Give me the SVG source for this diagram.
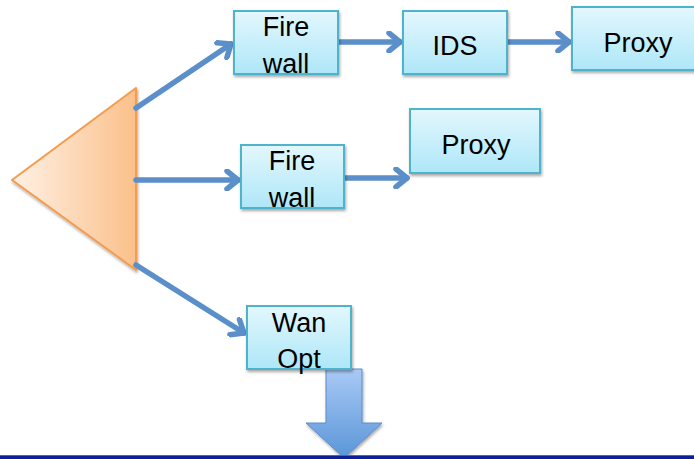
<svg xmlns="http://www.w3.org/2000/svg" width="694" height="459" viewBox="0 0 694 459">
  <defs>
    <linearGradient id="boxFill" x1="0" y1="0" x2="0" y2="1">
      <stop offset="0" stop-color="#e3f7fd"/>
      <stop offset="1" stop-color="#aee7f8"/>
    </linearGradient>
    <linearGradient id="triFill" x1="0" y1="0" x2="1" y2="0">
      <stop offset="0" stop-color="#fff1e6"/>
      <stop offset="1" stop-color="#fbc08a"/>
    </linearGradient>
    <linearGradient id="downFill" x1="0" y1="0" x2="0" y2="1">
      <stop offset="0" stop-color="#a9c9f6"/>
      <stop offset="1" stop-color="#5a96d8"/>
    </linearGradient>
    <filter id="shadow" x="-10%" y="-10%" width="125%" height="130%">
      <feGaussianBlur in="SourceAlpha" stdDeviation="1.5"/>
      <feOffset dx="1" dy="2" result="b"/>
      <feComponentTransfer><feFuncA type="linear" slope="0.35"/></feComponentTransfer>
      <feMerge><feMergeNode/><feMergeNode in="SourceGraphic"/></feMerge>
    </filter>
    <marker id="chevron" viewBox="-16 -11 19 22" refX="0" refY="0" markerWidth="19" markerHeight="22" markerUnits="userSpaceOnUse" orient="auto">
      <path d="M -11 -9 L 0 0 L -11 9" fill="none" stroke="#5b8fc9" stroke-width="5.5" stroke-linecap="round" stroke-linejoin="round"/>
    </marker>
    <style>
      .box { fill: url(#boxFill); stroke: #4fb3cc; stroke-width: 2; filter: url(#shadow); }
      .lbl { font-family: "Liberation Sans", Arial, sans-serif; font-size: 27px; fill: #000; text-anchor: middle; }
      .link { fill: none; stroke: #5b8fc9; stroke-width: 5.5; stroke-linecap: round; marker-end: url(#chevron); }
    </style>
  </defs>

  <rect width="694" height="459" fill="#ffffff"/>

  <!-- splitter -->
  <g id="splitter">
    <polygon points="12,180 136,88 136,270" fill="url(#triFill)" stroke="#f59b4c" stroke-width="2" stroke-linejoin="round" filter="url(#shadow)"/>
  </g>

  <!-- connectors -->
  <g id="connectors">
    <line class="link" x1="136" y1="108" x2="231" y2="44"/>
    <line class="link" x1="136" y1="180" x2="238" y2="180"/>
    <line class="link" x1="136" y1="265" x2="244" y2="333"/>
    <line class="link" x1="338" y1="42" x2="400" y2="42"/>
    <line class="link" x1="507" y1="42" x2="569" y2="42"/>
    <line class="link" x1="344" y1="178" x2="407" y2="178"/>
  </g>

  <!-- branch 1 -->
  <g id="firewall-1">
    <rect class="box" x="234" y="11" width="104" height="63"/>
    <text class="lbl" x="286" y="36">Fire</text>
    <text class="lbl" x="286" y="73">wall</text>
  </g>
  <g id="ids">
    <rect class="box" x="403" y="11" width="104" height="63"/>
    <text class="lbl" x="455" y="55">IDS</text>
  </g>
  <g id="proxy-1">
    <rect class="box" x="572" y="7" width="130" height="63"/>
    <text class="lbl" x="638" y="52">Proxy</text>
  </g>

  <!-- branch 2 -->
  <g id="firewall-2">
    <rect class="box" x="241" y="145" width="103" height="63"/>
    <text class="lbl" x="292" y="170">Fire</text>
    <text class="lbl" x="292" y="207">wall</text>
  </g>
  <g id="proxy-2">
    <rect class="box" x="410" y="109" width="130" height="64"/>
    <text class="lbl" x="476" y="154">Proxy</text>
  </g>

  <!-- branch 3 -->
  <g id="down-arrow">
    <polygon points="326,369 362,369 362,423 382,423 344,458 306,423 326,423" fill="url(#downFill)" stroke="#5b8dca" stroke-width="1" filter="url(#shadow)"/>
  </g>
  <g id="wan-opt">
    <rect class="box" x="247" y="306" width="104" height="63"/>
    <text class="lbl" x="299" y="332">Wan</text>
    <text class="lbl" x="299" y="368">Opt</text>
  </g>

  <!-- base rule -->
  <rect x="0" y="455" width="694" height="4" fill="#0b1f96"/>
  <rect x="0" y="455" width="694" height="1" fill="#4a64c0"/>
</svg>
